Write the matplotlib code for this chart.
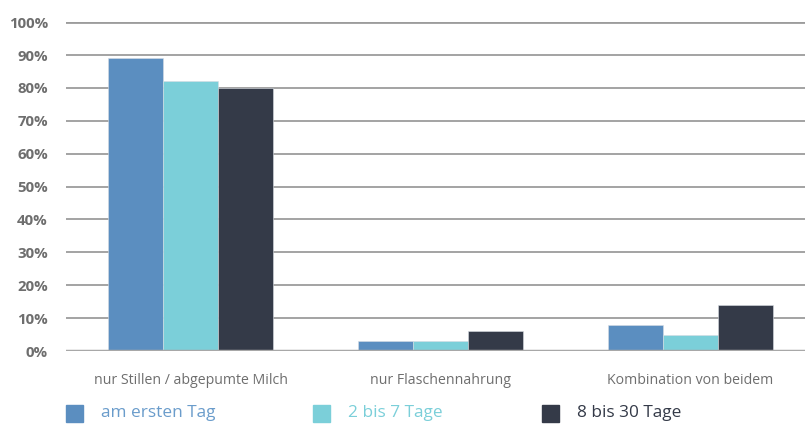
import numpy as np
import matplotlib.pyplot as plt
from matplotlib.patches import Rectangle

plt.rcParams['font.family'] = ['Open Sans', 'DejaVu Sans']

# Daten
categories = ['nur Stillen / abgepumte Milch', 'nur Flaschennahrung', 'Kombination von beidem']
series_names = ['am ersten Tag', '2 bis 7 Tage', '8 bis 30 Tage']
am_ersten_tag = [89, 3, 8]
tage_2_7 = [82, 3, 5]
tage_8_30 = [80, 6, 14]
y_ticks = [0, 10, 20, 30, 40, 50, 60, 70, 80, 90, 100]

colors = ['#5b8ec0', '#7bcfd9', '#343a48']
text_colors = ['#6a9ccb', '#7bcfd9', '#343a48']


def main():
    fig = plt.figure(figsize=(8.05, 4.26), dpi=100)
    ax = fig.add_axes([0.082, 0.176, 0.918, 0.772])

    x = np.arange(len(categories))
    width = 0.22
    data = [am_ersten_tag, tage_2_7, tage_8_30]
    for i, vals in enumerate(data):
        ax.bar(x + (i - 1) * width, vals, width, color=colors[i],
               edgecolor='#d8dde3', linewidth=0.4, zorder=3)

    # Gitterlinien
    for t in y_ticks[1:]:
        ax.axhline(t, color='#9c9c9c', linewidth=2.0 if t == 100 else 1.3, zorder=1)
    ax.axhline(0, color='#a8a8a8', linewidth=2.5, zorder=4)

    ax.set_xlim(-0.5, 2.46)
    ax.set_ylim(0, 100)
    ax.set_yticks(y_ticks)
    ax.set_yticklabels([f'{t}%' for t in y_ticks], fontsize=10.8,
                       fontweight='bold', color='#6e6e6e')
    ax.set_xticks(x)
    ax.set_xticklabels(categories, fontsize=10.2, color='#6e6e6e')
    ax.tick_params(axis='y', length=0, pad=13)
    ax.tick_params(axis='x', length=0, pad=16)
    for s in ax.spines.values():
        s.set_visible(False)

    # Legende
    legend_x = [66, 313, 542]
    for i, name in enumerate(series_names):
        fig.patches.append(Rectangle((legend_x[i] / 805, 1 - 422 / 426), 17 / 805, 17 / 426,
                                     transform=fig.transFigure, color=colors[i]))
        fig.text((legend_x[i] + 35) / 805, 1 - 413 / 426, name, fontsize=12.4,
                 color=text_colors[i], va='center', ha='left')

    fig.savefig('out.png', dpi=100)


if __name__ == "__main__":
    main()
